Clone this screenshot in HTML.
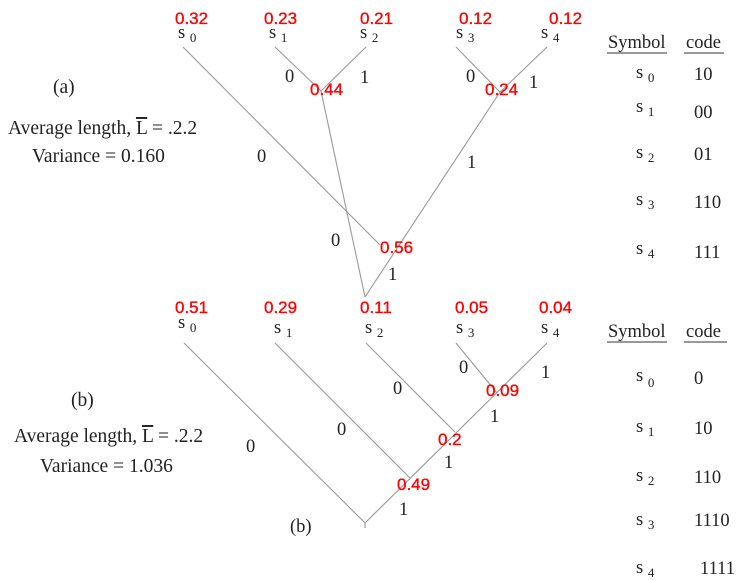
<!DOCTYPE html>
<html><head><meta charset="utf-8"><style>
html,body{margin:0;padding:0;background:#fff}
svg{display:block}
.t{font-family:"Liberation Serif",serif;font-size:18.5px;fill:#222}
.s{font-size:19.5px}
.r{font-family:"Liberation Sans",sans-serif;font-size:17px;fill:#f00;stroke:#f00;stroke-width:0.35}
.e{stroke:#999;stroke-width:1.1;fill:none}
.sub{font-size:13px}
</style></head><body>
<svg width="745" height="581" viewBox="0 0 745 581">
<g>
<line class="e" x1="183" y1="47" x2="380" y2="245"/>
<line class="e" x1="275" y1="47" x2="321" y2="91"/>
<line class="e" x1="366" y1="47" x2="321" y2="91"/>
<line class="e" x1="321" y1="91" x2="365" y2="297"/>
<line class="e" x1="456" y1="47" x2="500" y2="92"/>
<line class="e" x1="547" y1="47" x2="500" y2="92"/>
<line class="e" x1="500" y1="92" x2="365" y2="297"/>
</g>
<g>
<line class="e" x1="184" y1="343" x2="365" y2="523"/>
<line class="e" x1="275" y1="343" x2="410" y2="478"/>
<line class="e" x1="366" y1="343" x2="455" y2="432"/>
<line class="e" x1="456" y1="343" x2="497" y2="393"/>
<line class="e" x1="547" y1="343" x2="365" y2="523"/>
<line class="e" x1="365" y1="523" x2="365" y2="528"/>
</g>
<g>
<text class="r" x="175" y="24">0.32</text>
<text class="r" x="264" y="24">0.23</text>
<text class="r" x="360" y="24">0.21</text>
<text class="r" x="459" y="24">0.12</text>
<text class="r" x="549" y="24">0.12</text>
<text class="r" x="310" y="95">0.44</text>
<text class="r" x="485" y="95">0.24</text>
<text class="r" x="380" y="253">0.56</text>
<text class="r" x="175" y="313">0.51</text>
<text class="r" x="264" y="313">0.29</text>
<text class="r" x="360" y="313">0.11</text>
<text class="r" x="455" y="313">0.05</text>
<text class="r" x="539" y="313">0.04</text>
<text class="r" x="486" y="396">0.09</text>
<text class="r" x="438" y="445">0.2</text>
<text class="r" x="397" y="490">0.49</text>
</g>
<g class="t">
<text x="178" y="38">s <tspan class="sub" dy="4">0</tspan></text>
<text x="269" y="38">s <tspan class="sub" dy="4">1</tspan></text>
<text x="360" y="38">s <tspan class="sub" dy="4">2</tspan></text>
<text x="456" y="38">s <tspan class="sub" dy="4">3</tspan></text>
<text x="541" y="38">s <tspan class="sub" dy="4">4</tspan></text>
<text x="178" y="328">s <tspan class="sub" dy="4">0</tspan></text>
<text x="274" y="333">s <tspan class="sub" dy="4">1</tspan></text>
<text x="365" y="333">s <tspan class="sub" dy="4">2</tspan></text>
<text x="456" y="333">s <tspan class="sub" dy="4">3</tspan></text>
<text x="541" y="333">s <tspan class="sub" dy="4">4</tspan></text>
</g>
<g class="t">
<text x="285" y="82">0</text><text x="360" y="83">1</text>
<text x="466" y="82">0</text><text x="529" y="88">1</text>
<text x="257" y="162">0</text><text x="467" y="168">1</text>
<text x="331" y="246">0</text><text x="388" y="280">1</text>
<text x="246" y="452">0</text><text x="337" y="435">0</text>
<text x="393" y="394">0</text><text x="459" y="373">0</text>
<text x="541" y="378">1</text><text x="490" y="422">1</text>
<text x="444" y="468">1</text><text x="399" y="515">1</text>
<text x="290" y="532">(b)</text>
</g>
<g class="t s">
<text x="53" y="93">(a)</text>
<text x="8" y="134">Average length, <tspan text-decoration="overline">L</tspan> = .2.2</text>
<text x="32" y="162">Variance = 0.160</text>
<text x="71" y="406">(b)</text>
<text x="14" y="442">Average length, <tspan text-decoration="overline">L</tspan> = .2.2</text>
<text x="40" y="472">Variance = 1.036</text>
</g>
<g class="t">
<text x="608" y="48">Symbol</text><text x="686" y="48">code</text>
<line x1="607" y1="53" x2="667" y2="53" stroke="#333"/><line x1="684" y1="53" x2="724" y2="53" stroke="#333"/>
<text x="636" y="78">s <tspan class="sub" dy="4">0</tspan></text><text x="694" y="80">10</text>
<text x="636" y="112">s <tspan class="sub" dy="4">1</tspan></text><text x="694" y="118">00</text>
<text x="636" y="158">s <tspan class="sub" dy="4">2</tspan></text><text x="694" y="160">01</text>
<text x="636" y="205">s <tspan class="sub" dy="4">3</tspan></text><text x="694" y="208">110</text>
<text x="636" y="254">s <tspan class="sub" dy="4">4</tspan></text><text x="694" y="258">111</text>
</g>
<g class="t">
<text x="608" y="337">Symbol</text><text x="686" y="337">code</text>
<line x1="607" y1="342" x2="667" y2="342" stroke="#333"/><line x1="684" y1="342" x2="727" y2="342" stroke="#333"/>
<text x="636" y="381">s <tspan class="sub" dy="6">0</tspan></text><text x="694" y="384">0</text>
<text x="636" y="432">s <tspan class="sub" dy="4">1</tspan></text><text x="694" y="434">10</text>
<text x="636" y="481">s <tspan class="sub" dy="4">2</tspan></text><text x="694" y="483">110</text>
<text x="636" y="525">s <tspan class="sub" dy="4">3</tspan></text><text x="694" y="526">1110</text>
<text x="636" y="573">s <tspan class="sub" dy="4">4</tspan></text><text x="700" y="574">1111</text>
</g>
</svg>
</body></html>
